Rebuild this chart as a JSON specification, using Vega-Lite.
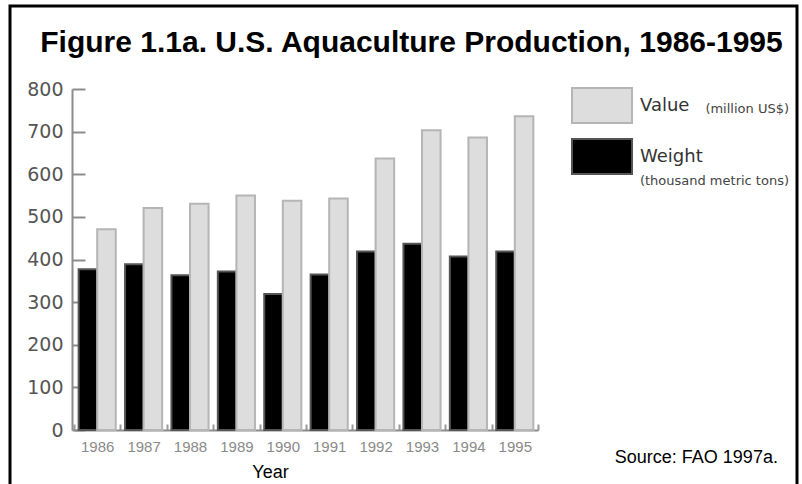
{
  "$schema": "https://vega.github.io/schema/vega-lite/v6.json",
  "width": 787,
  "height": 480,
  "autosize": {"type": "none"},
  "padding": {"left": 10, "top": 6, "right": 5, "bottom": -2},
  "background": "white",
  "title": {
    "text": "Figure 1.1a. U.S. Aquaculture Production, 1986-1995",
    "font": "Liberation Sans",
    "fontSize": 30,
    "fontWeight": "bold",
    "color": "#000000",
    "anchor": "middle",
    "baseline": "alphabetic",
    "frame": "group",
    "offset": -44,
    "dx": 8,
    "dy": 32
  },
  "config": {
    "view": {"stroke": "#000000", "strokeWidth": 3},
    "legend": {"padding": 0, "orient": "none"}
  },
  "layer": [
    {
      "data": {
        "values": [
          {"year": "1986", "series": "Weight", "amount": 377, "unit": "(thousand metric tons)"},
          {"year": "1986", "series": "Value", "amount": 471, "unit": "(million US$)"},
          {"year": "1987", "series": "Weight", "amount": 389, "unit": "(thousand metric tons)"},
          {"year": "1987", "series": "Value", "amount": 521, "unit": "(million US$)"},
          {"year": "1988", "series": "Weight", "amount": 363, "unit": "(thousand metric tons)"},
          {"year": "1988", "series": "Value", "amount": 531, "unit": "(million US$)"},
          {"year": "1989", "series": "Weight", "amount": 372, "unit": "(thousand metric tons)"},
          {"year": "1989", "series": "Value", "amount": 550, "unit": "(million US$)"},
          {"year": "1990", "series": "Weight", "amount": 319, "unit": "(thousand metric tons)"},
          {"year": "1990", "series": "Value", "amount": 538, "unit": "(million US$)"},
          {"year": "1991", "series": "Weight", "amount": 365, "unit": "(thousand metric tons)"},
          {"year": "1991", "series": "Value", "amount": 543, "unit": "(million US$)"},
          {"year": "1992", "series": "Weight", "amount": 419, "unit": "(thousand metric tons)"},
          {"year": "1992", "series": "Value", "amount": 637, "unit": "(million US$)"},
          {"year": "1993", "series": "Weight", "amount": 437, "unit": "(thousand metric tons)"},
          {"year": "1993", "series": "Value", "amount": 703, "unit": "(million US$)"},
          {"year": "1994", "series": "Weight", "amount": 407, "unit": "(thousand metric tons)"},
          {"year": "1994", "series": "Value", "amount": 686, "unit": "(million US$)"},
          {"year": "1995", "series": "Weight", "amount": 419, "unit": "(thousand metric tons)"},
          {"year": "1995", "series": "Value", "amount": 736, "unit": "(million US$)"}
        ]
      },
      "mark": {"type": "bar", "strokeWidth": 2},
      "encoding": {
        "x": {
          "field": "year",
          "type": "nominal",
          "scale": {"range": [64, 528], "paddingInner": 0, "paddingOuter": 0},
          "axis": {
            "offset": -56,
            "labelAngle": 0,
            "labelFont": "Liberation Sans",
            "labelFontSize": 15,
            "labelColor": "#8a8a8a",
            "labelPadding": 15,
            "labelBaseline": "top",
            "tickBand": "extent",
            "tickSize": -6,
            "tickColor": "#999999",
            "tickWidth": 2,
            "domainColor": "#8c8c8c",
            "domainWidth": 2,
            "title": "Year",
            "titleFont": "Liberation Sans",
            "titleFontSize": 18,
            "titleFontWeight": "normal",
            "titleColor": "#000000",
            "titleX": 260,
            "titleY": 47,
            "titleBaseline": "alphabetic",
            "titleAlign": "center"
          }
        },
        "xOffset": {
          "field": "series",
          "type": "nominal",
          "sort": ["Weight", "Value"],
          "scale": {"paddingInner": 0, "paddingOuter": 0.25}
        },
        "y": {
          "field": "amount",
          "type": "quantitative",
          "scale": {"domain": [0, 800], "range": [424, 83], "nice": false},
          "axis": {
            "offset": -62,
            "values": [0, 100, 200, 300, 400, 500, 600, 700, 800],
            "grid": false,
            "title": null,
            "labelFont": "DejaVu Sans",
            "labelFontSize": 19,
            "labelColor": "#555555",
            "labelPadding": 22,
            "tickSize": -13,
            "tickColor": "#8c8c8c",
            "tickWidth": 2,
            "domainColor": "#8c8c8c",
            "domainWidth": 2
          }
        },
        "fill": {
          "field": "series",
          "type": "nominal",
          "scale": {"domain": ["Value", "Weight"], "range": ["#dddddd", "#000000"]},
          "legend": {
            "title": null,
            "legendX": 561,
            "legendY": 81,
            "symbolType": "M-1,-1H2.43V1H-1Z",
            "symbolSize": 1225,
            "symbolStrokeWidth": 2,
            "labelFont": "DejaVu Sans",
            "labelFontSize": 18,
            "labelColor": "#333333",
            "labelOffset": 32,
            "rowPadding": 8
          }
        },
        "stroke": {
          "field": "series",
          "type": "nominal",
          "scale": {"domain": ["Value", "Weight"], "range": ["#b5b5b5", "#555555"]},
          "legend": {
            "title": null,
            "legendX": 561,
            "legendY": 81,
            "symbolType": "M-1,-1H2.43V1H-1Z",
            "symbolSize": 1225,
            "symbolStrokeWidth": 2,
            "labelFont": "DejaVu Sans",
            "labelFontSize": 18,
            "labelColor": "#333333",
            "labelOffset": 32,
            "rowPadding": 8
          }
        },
        "opacity": {
          "field": "unit",
          "type": "nominal",
          "scale": {"range": [1, 1]},
          "legend": {
            "title": null,
            "legendX": 615,
            "legendY": 96,
            "symbolSize": 0,
            "symbolStrokeWidth": 0,
            "symbolOpacity": 0,
            "labelOffset": 151,
            "labelAlign": "right",
            "rowPadding": 58,
            "labelFont": "DejaVu Sans",
            "labelFontSize": 13,
            "labelColor": "#444444"
          }
        }
      }
    },
    {
      "data": {"values": [{"note": "Source: FAO 1997a."}]},
      "mark": {
        "type": "text",
        "align": "left",
        "baseline": "alphabetic",
        "dx": 100,
        "font": "Liberation Sans",
        "fontSize": 18,
        "color": "#000000"
      },
      "encoding": {
        "x": {"datum": "1995"},
        "y": {"datum": -77},
        "text": {"field": "note"}
      }
    }
  ]
}
